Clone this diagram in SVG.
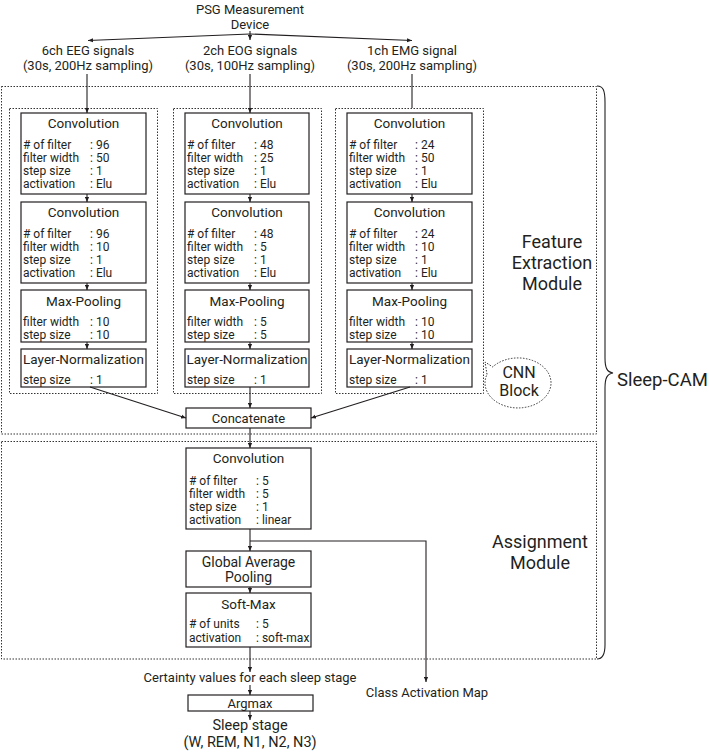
<svg xmlns="http://www.w3.org/2000/svg" width="709" height="753" viewBox="0 0 709 753">
<defs>
<marker id="ah" viewBox="0 0 6 6" refX="6" refY="3" markerWidth="5" markerHeight="5" markerUnits="userSpaceOnUse" orient="auto"><path d="M0,0.5 L6,3 L0,5.5 Z" fill="#231f20"/></marker>
<style>
text{font-family:Roboto,"Liberation Sans",sans-serif;fill:#231f20;font-weight:400}
.t{font-size:13.5px;text-anchor:middle}
.b{font-size:12px}
.m{font-size:13px;text-anchor:middle}
.big{font-size:18px;text-anchor:middle}
.box{fill:#fff;stroke:#231f20;stroke-width:1.2}
.dot{fill:none;stroke:#333;stroke-width:1;stroke-dasharray:1.5 1.5}
.ln{fill:none;stroke:#231f20;stroke-width:1.1}
.ar{marker-end:url(#ah)}
</style>
</defs>
<rect width="709" height="753" fill="#fff"/>

<g id="modules">
<rect class="dot" x="1.5" y="86.5" width="595" height="347.5"/>
<rect class="dot" x="1.5" y="441.5" width="595" height="217.5"/>
<text class="big" x="552" y="248">Feature</text>
<text class="big" x="552" y="269">Extraction</text>
<text class="big" x="552" y="290">Module</text>
<text class="big" x="540" y="548">Assignment</text>
<text class="big" x="540" y="569">Module</text>
</g>

<g id="sleepcam">
<path class="ln" d="M597,86 C603,86 605,90 605,102 L605,358 C605,368 607,372 613,373 C607,374 605,378 605,388 L605,645 C605,655 602,659 597,659"/>
<text x="617" y="386" style="font-size:18.5px">Sleep-CAM</text>
</g>

<g id="psg">
<text class="m" x="250" y="13.5">PSG Measurement</text>
<text class="m" x="250" y="28.5">Device</text>
</g>
<g id="inputs">
<text class="m" x="88" y="54.5">6ch EEG signals</text>
<text class="m" x="88" y="69.5">(30s, 200Hz sampling)</text>
<text class="m" x="250" y="54.5">2ch EOG signals</text>
<text class="m" x="250" y="69.5">(30s, 100Hz sampling)</text>
<text class="m" x="412" y="54.5">1ch EMG signal</text>
<text class="m" x="412" y="69.5">(30s, 200Hz sampling)</text>
</g>

<g id="cnn-block-1">
<rect class="dot" x="9.5" y="108.5" width="148" height="285"/>
<rect class="box" x="21" y="113" width="125" height="81"/>
<text class="t" x="83.5" y="128">Convolution</text>
<text class="b" x="23" y="149"># of filter</text><text class="b" x="90" y="149">: 96</text>
<text class="b" x="23" y="162">filter width</text><text class="b" x="90" y="162">: 50</text>
<text class="b" x="23" y="175">step size</text><text class="b" x="90" y="175">: 1</text>
<text class="b" x="23" y="188">activation</text><text class="b" x="90" y="188">: Elu</text>
<rect class="box" x="21" y="202" width="125" height="81"/>
<text class="t" x="83.5" y="217">Convolution</text>
<text class="b" x="23" y="238"># of filter</text><text class="b" x="90" y="238">: 96</text>
<text class="b" x="23" y="251">filter width</text><text class="b" x="90" y="251">: 10</text>
<text class="b" x="23" y="264">step size</text><text class="b" x="90" y="264">: 1</text>
<text class="b" x="23" y="277">activation</text><text class="b" x="90" y="277">: Elu</text>
<rect class="box" x="21" y="290" width="125" height="52"/>
<text class="t" x="83.5" y="306">Max-Pooling</text>
<text class="b" x="23" y="326">filter width</text><text class="b" x="90" y="326">: 10</text>
<text class="b" x="23" y="339">step size</text><text class="b" x="90" y="339">: 10</text>
<rect class="box" x="21" y="349" width="125" height="38"/>
<text class="t" x="83.5" y="364">Layer-Normalization</text>
<text class="b" x="23" y="384">step size</text><text class="b" x="90" y="384">: 1</text>
</g>

<g id="cnn-block-2">
<rect class="dot" x="173.5" y="108.5" width="148" height="285"/>
<rect class="box" x="185" y="113" width="124" height="81"/>
<text class="t" x="247" y="128">Convolution</text>
<text class="b" x="187" y="149"># of filter</text><text class="b" x="254" y="149">: 48</text>
<text class="b" x="187" y="162">filter width</text><text class="b" x="254" y="162">: 25</text>
<text class="b" x="187" y="175">step size</text><text class="b" x="254" y="175">: 1</text>
<text class="b" x="187" y="188">activation</text><text class="b" x="254" y="188">: Elu</text>
<rect class="box" x="185" y="202" width="124" height="81"/>
<text class="t" x="247" y="217">Convolution</text>
<text class="b" x="187" y="238"># of filter</text><text class="b" x="254" y="238">: 48</text>
<text class="b" x="187" y="251">filter width</text><text class="b" x="254" y="251">: 5</text>
<text class="b" x="187" y="264">step size</text><text class="b" x="254" y="264">: 1</text>
<text class="b" x="187" y="277">activation</text><text class="b" x="254" y="277">: Elu</text>
<rect class="box" x="185" y="290" width="124" height="52"/>
<text class="t" x="247" y="306">Max-Pooling</text>
<text class="b" x="187" y="326">filter width</text><text class="b" x="254" y="326">: 5</text>
<text class="b" x="187" y="339">step size</text><text class="b" x="254" y="339">: 5</text>
<rect class="box" x="185" y="349" width="124" height="38"/>
<text class="t" x="247" y="364">Layer-Normalization</text>
<text class="b" x="187" y="384">step size</text><text class="b" x="254" y="384">: 1</text>
</g>

<g id="cnn-block-3">
<rect class="dot" x="335.5" y="108.5" width="148" height="285"/>
<rect class="box" x="347" y="113" width="125" height="81"/>
<text class="t" x="409.5" y="128">Convolution</text>
<text class="b" x="349" y="149"># of filter</text><text class="b" x="415" y="149">: 24</text>
<text class="b" x="349" y="162">filter width</text><text class="b" x="415" y="162">: 50</text>
<text class="b" x="349" y="175">step size</text><text class="b" x="415" y="175">: 1</text>
<text class="b" x="349" y="188">activation</text><text class="b" x="415" y="188">: Elu</text>
<rect class="box" x="347" y="202" width="125" height="81"/>
<text class="t" x="409.5" y="217">Convolution</text>
<text class="b" x="349" y="238"># of filter</text><text class="b" x="415" y="238">: 24</text>
<text class="b" x="349" y="251">filter width</text><text class="b" x="415" y="251">: 10</text>
<text class="b" x="349" y="264">step size</text><text class="b" x="415" y="264">: 1</text>
<text class="b" x="349" y="277">activation</text><text class="b" x="415" y="277">: Elu</text>
<rect class="box" x="347" y="290" width="125" height="52"/>
<text class="t" x="409.5" y="306">Max-Pooling</text>
<text class="b" x="349" y="326">filter width</text><text class="b" x="415" y="326">: 10</text>
<text class="b" x="349" y="339">step size</text><text class="b" x="415" y="339">: 10</text>
<rect class="box" x="347" y="349" width="125" height="38"/>
<text class="t" x="409.5" y="364">Layer-Normalization</text>
<text class="b" x="349" y="384">step size</text><text class="b" x="415" y="384">: 1</text>
</g>

<g id="cnn-label">
<path class="dot" d="M487,374.4 L485,362 L492.7,366.9 A33,25 0 1 1 487,374.4 Z"/>
<text class="m" x="519" y="378" style="font-size:16px">CNN</text>
<text class="m" x="519" y="396" style="font-size:16px">Block</text>
</g>

<g id="concatenate">
<rect class="box" x="186" y="408" width="125" height="20"/>
<text class="m" x="248.5" y="423">Concatenate</text>
</g>

<g id="assign-conv">
<rect class="box" x="186" y="448" width="125" height="81"/>
<text class="t" x="248.5" y="463">Convolution</text>
<text class="b" x="189" y="485"># of filter</text><text class="b" x="256" y="485">: 5</text>
<text class="b" x="189" y="498">filter width</text><text class="b" x="256" y="498">: 5</text>
<text class="b" x="189" y="511">step size</text><text class="b" x="256" y="511">: 1</text>
<text class="b" x="189" y="524">activation</text><text class="b" x="256" y="524">: linear</text>
</g>
<g id="gap">
<rect class="box" x="186" y="551" width="125" height="36"/>
<text class="t" x="248.5" y="567" style="font-size:14px">Global Average</text>
<text class="t" x="248.5" y="582" style="font-size:14px">Pooling</text>
</g>
<g id="softmax">
<rect class="box" x="186" y="593" width="125" height="54"/>
<text class="t" x="248.5" y="609">Soft-Max</text>
<text class="b" x="189" y="628"># of units</text><text class="b" x="256" y="628">: 5</text>
<text class="b" x="189" y="642">activation</text><text class="b" x="256" y="642">: soft-max</text>
</g>
<g id="certainty">
<text class="m" x="250" y="682">Certainty values for each sleep stage</text>
</g>
<g id="argmax">
<rect class="box" x="188" y="695" width="125" height="16"/>
<text class="m" x="250" y="707.5">Argmax</text>
</g>
<g id="sleep-stage">
<text class="m" x="250" y="730" style="font-size:14.5px">Sleep stage</text>
<text class="m" x="250" y="747" style="font-size:14.5px">(W, REM, N1, N2, N3)</text>
</g>
<g id="cam">
<text class="m" x="427" y="697">Class Activation Map</text>
</g>

<g id="connectors">
<path class="ln ar" d="M250,34 L88,40.5"/>
<path class="ln ar" d="M250,34 L412,40.5"/>
<path class="ln ar" d="M250,31 L250,40"/>
<path class="ln ar" d="M87,74 L87,113"/>
<path class="ln ar" d="M250,74 L250,113"/>
<path class="ln" d="M412,74 L412,108"/>
<path class="ln ar" d="M87,194 L87,202"/>
<path class="ln ar" d="M87,283 L87,290"/>
<path class="ln ar" d="M87,342 L87,349"/>
<path class="ln ar" d="M250,194 L250,202"/>
<path class="ln ar" d="M250,283 L250,290"/>
<path class="ln ar" d="M250,342 L250,349"/>
<path class="ln ar" d="M412,194 L412,202"/>
<path class="ln ar" d="M412,283 L412,290"/>
<path class="ln ar" d="M412,342 L412,349"/>
<path class="ln ar" d="M90,387 L186,418"/>
<path class="ln ar" d="M250,387 L250,408"/>
<path class="ln ar" d="M410,387 L311,418"/>
<path class="ln ar" d="M250,428 L250,448"/>
<path class="ln ar" d="M250,529 L250,551"/>
<path class="ln ar" d="M250,541 L426,541 L426,682"/>
<path class="ln ar" d="M250,587 L250,593"/>
<path class="ln ar" d="M250,647 L250,672"/>
<path class="ln ar" d="M250,685 L250,695"/>
<path class="ln ar" d="M250,711 L250,720"/>
</g>
</svg>
